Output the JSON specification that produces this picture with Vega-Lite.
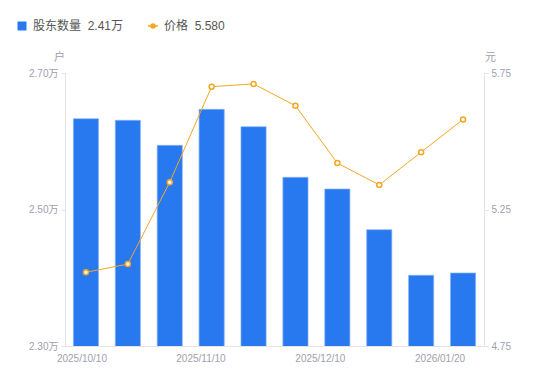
{
  "$schema": "https://vega.github.io/schema/vega-lite/v6.json",
  "autosize": {"type": "none"},
  "width": 419,
  "height": 273,
  "padding": {"left": 65, "top": 73, "right": 66, "bottom": 35},
  "background": "white",
  "config": {
    "font": "Liberation Sans, Noto Sans CJK SC, sans-serif",
    "view": {"stroke": null},
    "axis": {"labelFont": "Liberation Sans, Noto Sans CJK SC, sans-serif", "titleFont": "Liberation Sans, Noto Sans CJK SC, sans-serif"}
  },
  "data": {"values": [
    {"date": "2025/10/10", "holders": 26330, "price": 5.02},
    {"date": "2025/10/20", "holders": 26307, "price": 5.05},
    {"date": "2025/10/31", "holders": 25940, "price": 5.35},
    {"date": "2025/11/10", "holders": 26468, "price": 5.70},
    {"date": "2025/11/20", "holders": 26213, "price": 5.71},
    {"date": "2025/11/28", "holders": 25472, "price": 5.63},
    {"date": "2025/12/10", "holders": 25300, "price": 5.42},
    {"date": "2025/12/19", "holders": 24704, "price": 5.34},
    {"date": "2025/12/31", "holders": 24036, "price": 5.46},
    {"date": "2026/01/20", "holders": 24070, "price": 5.58}
  ]},
  "encoding": {
    "x": {
      "field": "date", "type": "ordinal", "sort": null,
      "scale": {"paddingInner": 0.4, "paddingOuter": 0.2},
      "axis": {
        "title": null, "labelAngle": 0, "ticks": false,
        "domainColor": "#e3e3e8", "labelColor": "#a0a0ad", "labelFontSize": 10, "labelPadding": 7,
        "values": ["2025/10/10", "2025/11/10", "2025/12/10", "2026/01/20"],
        "labelOffset": {"condition": [
          {"test": "datum.value === '2025/10/10'", "value": -4},
          {"test": "datum.value === '2025/11/10'", "value": -10.7},
          {"test": "datum.value === '2025/12/10'", "value": -17}
        ], "value": -23}
      }
    }
  },
  "layer": [
    {
      "mark": {"type": "bar", "stroke": "#86b3f7", "strokeWidth": 0.7, "clip": true},
      "encoding": {
        "y": {
          "field": "holders", "type": "quantitative",
          "scale": {"domain": [23000, 27000], "zero": false, "nice": false},
          "axis": {
            "title": "户", "titleAngle": 0, "titleX": -6, "titleY": -16, "titleAlign": "center", "titleBaseline": "middle",
            "titleFontSize": 11, "titleFontWeight": "normal", "titleColor": "#a0a0ad",
            "values": [23000, 25000, 27000], "labelExpr": "format(datum.value/10000, '.2f') + '万'",
            "grid": false, "domainColor": "#e3e3e8", "tickColor": "#e3e3e8", "tickSize": 4,
            "labelColor": "#a0a0ad", "labelFontSize": 10, "labelPadding": 3
          }
        },
        "color": {
          "datum": "股东数量", "type": "nominal",
          "scale": {"domain": ["股东数量", "价格"], "range": ["#2878f0", "#f5a623"]},
          "legend": {
            "title": null, "orient": "none", "direction": "horizontal",
            "legendX": -49, "legendY": -53, "symbolSize": 100, "labelOffset": 5, "columnPadding": 21,
            "labelFontSize": 12, "labelColor": "#555555",
            "labelExpr": "datum.value === '价格' ? '价格\u00a0\u00a05.580' : '股东数量\u00a0\u00a02.41万'",
            "encode": {"symbols": {"update": {
              "shape": {"signal": "datum.value === '价格' ? 'M-1,0H-0.4M0.4,0H1M0.4,0A0.4,0.4,0,1,1,-0.4,0A0.4,0.4,0,1,1,0.4,0' : 'M-0.9,-0.9H0.9V0.9H-0.9Z'"},
              "fill": {"signal": "datum.value === '价格' ? 'white' : '#2878f0'"},
              "stroke": {"signal": "datum.value === '价格' ? '#f5a623' : '#2878f0'"},
              "strokeWidth": {"signal": "datum.value === '价格' ? 1.5 : 0"},
              "opacity": {"value": 1}, "fillOpacity": {"value": 1}, "strokeOpacity": {"value": 1}
            }}}
          }
        }
      }
    },
    {
      "layer": [
        {
          "mark": {"type": "line", "strokeWidth": 1, "color": "#f5b041"},
          "encoding": {
            "y": {
              "field": "price", "type": "quantitative",
              "scale": {"domain": [4.75, 5.75], "zero": false, "nice": false},
              "axis": {
                "orient": "right", "title": "元", "titleAngle": 0, "titleX": 6, "titleY": -16, "titleAlign": "center", "titleBaseline": "middle",
                "titleFontSize": 11, "titleFontWeight": "normal", "titleColor": "#a0a0ad",
                "values": [4.75, 5.25, 5.75], "format": ".2f",
                "grid": false, "domainColor": "#e3e3e8", "tickColor": "#e3e3e8", "tickSize": 4,
                "labelColor": "#a0a0ad", "labelFontSize": 10, "labelPadding": 3
              }
            },
            "color": {
              "datum": "价格", "type": "nominal",
              "legend": {
                "title": null, "orient": "none", "direction": "horizontal",
                "legendX": -49, "legendY": -53, "symbolSize": 100, "labelOffset": 5, "columnPadding": 21,
                "labelFontSize": 12, "labelColor": "#555555",
                "labelExpr": "datum.value === '价格' ? '价格\u00a0\u00a05.580' : '股东数量\u00a0\u00a02.41万'",
                "encode": {"symbols": {"update": {
                  "shape": {"signal": "datum.value === '价格' ? 'M-1,0H-0.4M0.4,0H1M0.4,0A0.4,0.4,0,1,1,-0.4,0A0.4,0.4,0,1,1,0.4,0' : 'M-0.9,-0.9H0.9V0.9H-0.9Z'"},
                  "fill": {"signal": "datum.value === '价格' ? 'white' : '#2878f0'"},
                  "stroke": {"signal": "datum.value === '价格' ? '#f5a623' : '#2878f0'"},
                  "strokeWidth": {"signal": "datum.value === '价格' ? 1.5 : 0"},
                  "opacity": {"value": 1}, "fillOpacity": {"value": 1}, "strokeOpacity": {"value": 1}
                }}}
              }
            }
          }
        },
        {
          "mark": {"type": "point", "filled": true, "fill": "white", "stroke": "#f5a623", "strokeWidth": 1.5, "size": 25, "opacity": 1},
          "encoding": {
            "y": {"field": "price", "type": "quantitative"}
          }
        }
      ]
    }
  ],
  "resolve": {"scale": {"y": "independent"}}
}
